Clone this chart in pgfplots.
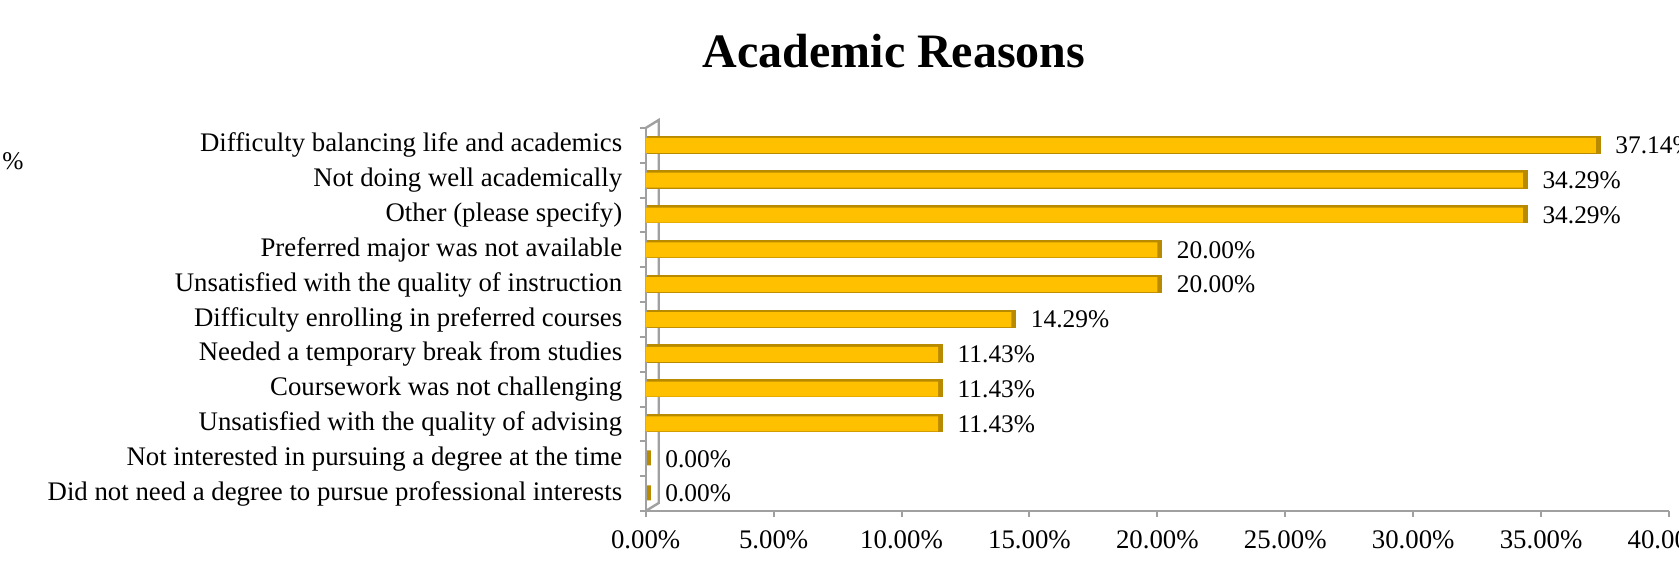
\documentclass[border=0pt]{standalone}
\usepackage{fontspec}
\setmainfont{Liberation Serif}
\usepackage{pgfplots}
\usepackage{pgfplotstable}
\pgfplotsset{compat=1.18}
\definecolor{gold}{RGB}{255,192,0}
\definecolor{darkgold}{RGB}{184,138,0}
\definecolor{axgray}{RGB}{160,160,160}
\pgfplotstableread{
y x
0 0
1 0
2 11.43
3 11.43
4 11.43
5 14.29
6 20.00
7 20.00
8 34.29
9 34.29
10 37.14
}\datatable
\begin{document}
\begin{tikzpicture}
\useasboundingbox (0,0) rectangle (839.5pt,284.5pt);
\node[font=\bfseries\fontsize{24}{28}\selectfont] at (447pt,259pt) {Academic Reasons};
\node[anchor=west,inner sep=0pt,font=\fontsize{12.7}{15}\selectfont] at (1pt,204pt) {\%};
\begin{axis}[
  at={(322.85pt,29pt)}, anchor=south west,
  scale only axis, width=511.65pt, height=191.5pt,
  xmin=0, xmax=40, ymin=-0.5, ymax=10.5,
  clip=false,
  xtick={0,5,...,40},
  xticklabel={\pgfmathprintnumber[fixed,fixed zerofill,precision=2]{\tick}\%},
  ytick={-0.5,0.5,...,10.5},
  y tick label as interval,
  yticklabels={Did not need a degree to pursue professional interests,
    Not interested in pursuing a degree at the time,
    Unsatisfied with the quality of advising,
    Coursework was not challenging,
    Needed a temporary break from studies,
    Difficulty enrolling in preferred courses,
    Unsatisfied with the quality of instruction,
    Preferred major was not available,
    Other (please specify),
    Not doing well academically,
    Difficulty balancing life and academics},
  axis x line*=bottom, axis y line*=left,
  axis line style={-, axgray, line width=1.2pt},
  tick style={axgray, line width=1pt},
  major tick length=3pt,
  tick align=outside,
  /pgf/number format/assume math mode=true,
  tick label style={font=\fontsize{13.4}{16}\selectfont},
  xticklabel style={yshift=-3.3pt},
  yticklabel style={xshift=-5.2pt},
]
\draw[axgray, line width=1.2pt] (rel axis cs:0,1) -- ([xshift=6.5pt,yshift=4pt]rel axis cs:0,1) -- ([xshift=6.5pt,yshift=4pt]rel axis cs:0,0) -- (rel axis cs:0,0);
\addplot[xbar, bar shift=0pt, bar width=7.5pt, fill=darkgold, draw=darkgold, line width=1.6pt, xshift=1.6pt, yshift=0.4pt] table[x=x,y=y] {\datatable};
\addplot[xbar, bar shift=0pt, bar width=7.5pt, fill=gold, draw=none,
  point meta=x,
  nodes near coords={\pgfmathprintnumber[fixed,fixed zerofill,precision=2]{\pgfplotspointmeta}\%},
  every node near coord/.append style={anchor=west, inner sep=0pt, xshift=9.6pt, text=black, font=\fontsize{12.7}{15}\selectfont}
] table[x=x,y=y] {\datatable};
\end{axis}
\end{tikzpicture}
\end{document}
